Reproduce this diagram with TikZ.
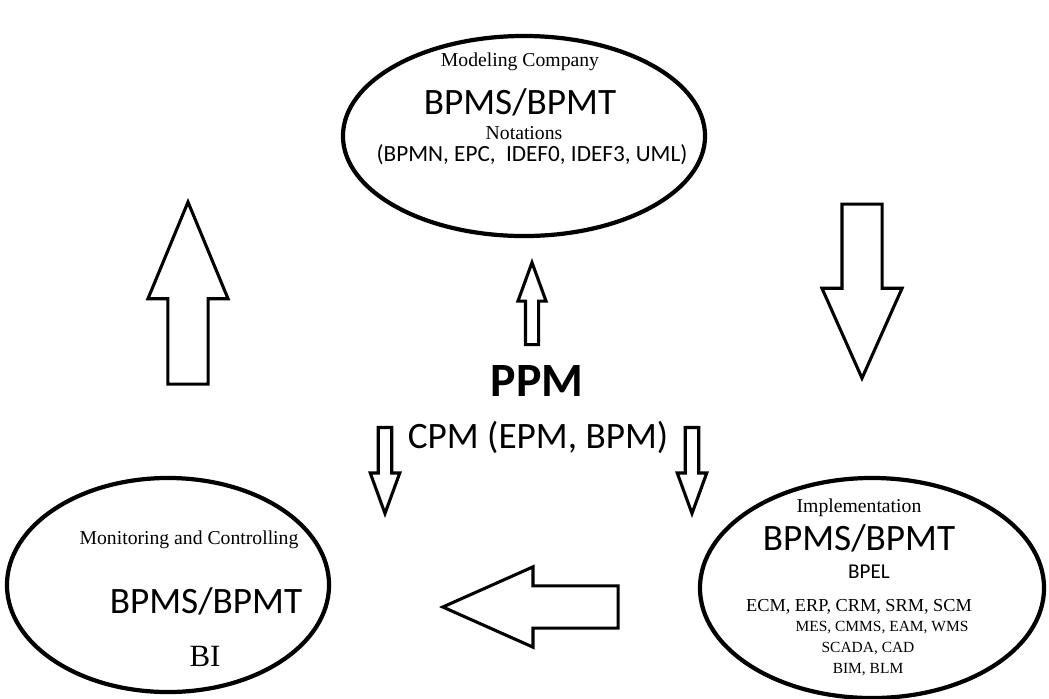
\documentclass[tikz,border=0pt]{standalone}
\usepackage{fontspec}
\setmainfont{Liberation Serif}
\newfontfamily\calib{Carlito}
\usetikzlibrary{
	shapes.geometric,
	shapes.arrows,
	positioning
}

\begin{document}
\begin{tikzpicture}[x=0.025cm, y=-0.025cm,
		phase/.style={draw, ellipse, line width=3pt, inner sep=0pt},
		blockarrow/.style={draw, single arrow, line width=2.2pt, inner xsep=0pt, single arrow head indent=0pt},
		lbl/.style={inner sep=0pt, font=\fontsize{14}{16}\selectfont},
		tool/.style={inner sep=0pt, font=\calib\fontsize{26.5}{30}\selectfont}]
		\useasboundingbox (0,0) rectangle (1049,698);
		\node[phase, minimum width=9.05cm, minimum height=5cm] (model) at (524,136) {};
		\node[phase, minimum width=8.05cm, minimum height=5.35cm] (monit) at (168,585) {};
		\node[phase, minimum width=8.6cm, minimum height=5.5cm] (impl) at (872,588) {};
		\node[lbl] (modelT) at (520,62) {Modeling Company};
		\node[tool] (modelB) at (520,102) {BPMS/BPMT};
		\node[lbl] (modelN) at (524,133) {Notations};
		\node[inner sep=0pt, font=\calib\fontsize{16.5}{18}\selectfont] (modelL) at (532,155) {(BPMN, EPC,\ \ IDEF0, IDEF3, UML)};
		\node[inner sep=0pt, font=\calib\bfseries\fontsize{34}{38}\selectfont] (ppm) at (537,381) {PPM};
		\node[tool] (cpm) at (538,437) {CPM (EPM, BPM)};
		\node[lbl] (monitT) at (189,540) {Monitoring and Controlling};
		\node[tool] (monitB) at (206,601) {BPMS/BPMT};
		\node[inner sep=0pt, font=\fontsize{22}{26}\selectfont] (monitBI) at (205,656) {BI};
		\node[lbl] (implT) at (859,508) {Implementation};
		\node[tool] (implB) at (859,538) {BPMS/BPMT};
		\node[inner sep=0pt, font=\calib\fontsize{15}{17}\selectfont] (implP) at (869,572) {BPEL};
		\node[inner sep=0pt, font=\fontsize{13}{15}\selectfont] (implS1) at (859,607) {ECM, ERP, CRM, SRM, SCM};
		\node[inner sep=0pt, font=\fontsize{11}{12}\selectfont] (implS2) at (882,628) {MES, CMMS, EAM, WMS};
		\node[inner sep=0pt, font=\fontsize{11}{12}\selectfont] (implS3) at (868,649) {SCADA, CAD};
		\node[inner sep=0pt, font=\fontsize{11}{12}\selectfont] (implS4) at (868,670) {BIM, BLM};
		\node[blockarrow, rotate=90, anchor=tip, minimum height=4.55cm, inner ysep=0.4625cm, single arrow head extend=0.5cm, single arrow tip angle=45] (upL) at (188,198) {};
		\node[blockarrow, rotate=-90, anchor=tip, minimum height=4.35cm, inner ysep=0.4625cm, single arrow head extend=0.5cm, single arrow tip angle=48] (downR) at (862,382) {};
		\node[blockarrow, rotate=180, anchor=tip, minimum height=4.38cm, inner ysep=0.49cm, single arrow head extend=0.475cm, single arrow tip angle=48] (back) at (439,607) {};
		\node[blockarrow, rotate=90, anchor=tip, minimum height=2.05cm, inner ysep=0.125cm, single arrow head extend=0.1875cm, single arrow tip angle=40] (upC) at (532,258) {};
		\node[blockarrow, rotate=-90, anchor=tip, minimum height=2.15cm, inner ysep=0.13cm, single arrow head extend=0.2cm, single arrow tip angle=40] (downL) at (385,518) {};
		\node[blockarrow, rotate=-90, anchor=tip, minimum height=2.15cm, inner ysep=0.13cm, single arrow head extend=0.2cm, single arrow tip angle=40] (downC) at (692,518) {};
	\end{tikzpicture}
\end{document}
